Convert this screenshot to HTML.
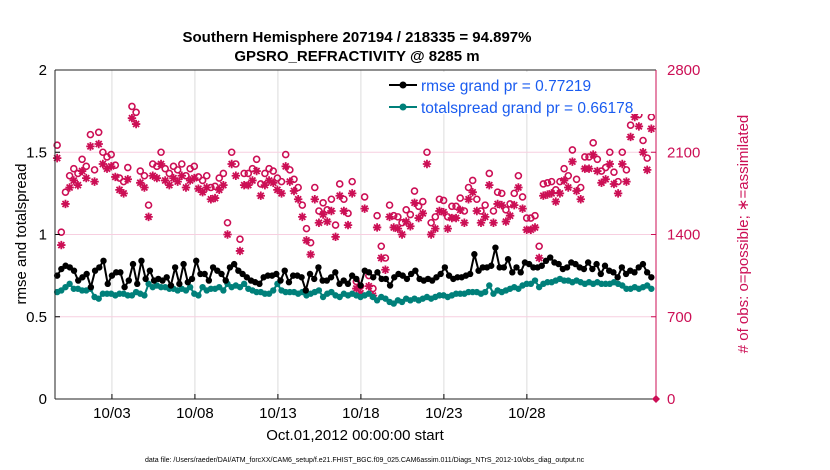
<!DOCTYPE html>
<html><head><meta charset="utf-8"><style>
body{margin:0;background:#fff;}
svg{display:block;font-family:"Liberation Sans",sans-serif;}
</style></head><body>
<svg id="chart" width="830" height="470">
<text x="357" y="42" text-anchor="middle" font-size="15" font-weight="bold">Southern Hemisphere 207194 / 218335 = 94.897%</text>
<text x="357" y="61" text-anchor="middle" font-size="15" font-weight="bold">GPSRO_REFRACTIVITY @ 8285 m</text>
<g id="grid"></g>
<g id="marks"></g>
<g id="axes"></g>
<text transform="translate(26,234) rotate(-90)" text-anchor="middle" font-size="15">rmse and totalspread</text>
<text transform="translate(748,234) rotate(-90)" text-anchor="middle" font-size="15" fill="#cc0f55"># of obs: o=possible; ∗=assimilated</text>
<text x="355" y="440" text-anchor="middle" font-size="15">Oct.01,2012 00:00:00 start</text>
<text x="145" y="462" font-size="7">data file: /Users/raeder/DAI/ATM_forcXX/CAM6_setup/f.e21.FHIST_BGC.f09_025.CAM6assim.011/Diags_NTrS_2012-10/obs_diag_output.nc</text>
<g>
<rect x="385" y="72" width="268" height="42" fill="#fff"/>
<line x1="389" y1="85" x2="417" y2="85" stroke="#000" stroke-width="2"/>
<circle cx="403" cy="85" r="3.5" fill="#000"/>
<text x="421" y="91" font-size="15.5" fill="#1a5cf0">rmse grand pr = 0.77219</text>
<line x1="389" y1="107" x2="417" y2="107" stroke="#00807a" stroke-width="2"/>
<circle cx="403" cy="107" r="3.5" fill="#00807a"/>
<text x="421" y="113" font-size="15.5" fill="#1a5cf0">totalspread grand pr = 0.66178</text>
</g>
</svg>
<script>
const xTickLabels=["10/03","10/08","10/13","10/18","10/23","10/28"];
const xTickDays=[2,7,12,17,22,27];
const leftTicks=[0,0.5,1,1.5,2];
const rightTicks=[0,700,1400,2100,2800];
const rmse=[0.75,0.79,0.81,0.80,0.78,0.72,0.74,0.76,0.68,0.78,0.80,0.84,0.70,0.75,0.77,0.77,0.68,0.72,0.82,0.70,0.84,0.73,0.78,0.72,0.73,0.72,0.74,0.69,0.80,0.70,0.82,0.71,0.73,0.84,0.76,0.76,0.72,0.80,0.78,0.76,0.72,0.80,0.82,0.78,0.76,0.74,0.72,0.71,0.70,0.74,0.75,0.75,0.76,0.72,0.78,0.71,0.75,0.75,0.74,0.66,0.76,0.73,0.80,0.72,0.72,0.74,0.77,0.70,0.72,0.70,0.75,0.73,0.69,0.78,0.77,0.74,0.77,0.73,0.73,0.69,0.74,0.76,0.75,0.73,0.76,0.78,0.73,0.72,0.73,0.72,0.74,0.76,0.80,0.75,0.73,0.74,0.74,0.75,0.76,0.88,0.78,0.80,0.80,0.81,0.92,0.80,0.80,0.85,0.77,0.80,0.77,0.83,0.82,0.80,0.80,0.81,0.84,0.86,0.83,0.82,0.79,0.80,0.83,0.82,0.80,0.79,0.83,0.79,0.82,0.76,0.81,0.78,0.77,0.74,0.80,0.76,0.78,0.77,0.80,0.82,0.77,0.74];
const spread=[0.65,0.66,0.68,0.70,0.67,0.67,0.66,0.66,0.67,0.62,0.61,0.64,0.64,0.64,0.63,0.64,0.64,0.63,0.63,0.65,0.64,0.63,0.70,0.68,0.69,0.68,0.68,0.67,0.67,0.66,0.67,0.66,0.68,0.64,0.63,0.68,0.66,0.67,0.67,0.68,0.66,0.70,0.68,0.69,0.68,0.70,0.67,0.66,0.65,0.65,0.64,0.64,0.66,0.70,0.66,0.65,0.65,0.65,0.64,0.65,0.63,0.64,0.65,0.66,0.62,0.64,0.65,0.63,0.62,0.64,0.63,0.64,0.63,0.62,0.63,0.64,0.62,0.60,0.62,0.61,0.59,0.58,0.60,0.59,0.61,0.60,0.61,0.60,0.61,0.62,0.61,0.62,0.63,0.63,0.62,0.63,0.64,0.64,0.64,0.65,0.65,0.65,0.64,0.65,0.69,0.64,0.66,0.65,0.66,0.67,0.68,0.67,0.69,0.70,0.70,0.72,0.68,0.70,0.71,0.71,0.72,0.73,0.72,0.72,0.71,0.72,0.71,0.70,0.71,0.70,0.71,0.70,0.70,0.70,0.71,0.70,0.69,0.67,0.67,0.68,0.67,0.68,0.69,0.67];
const possible=[2160,1420,1760,1900,1960,1920,2040,1980,2250,1950,2270,2100,2060,2080,1990,1880,1850,1970,2490,2440,1940,1900,1650,2000,1980,2100,1960,1920,1980,1950,2000,1900,1960,1980,1890,1860,1900,1800,1810,1880,1920,1500,2100,2000,1360,1920,1920,1960,2040,1830,1920,1960,1940,1880,1850,2080,1950,1870,1800,1650,1450,1330,1800,1600,1670,1610,1700,1480,1830,1700,1580,1850,1000,960,1720,1050,940,1560,1300,1200,1650,1560,1550,1500,1610,1570,1770,1640,1680,2100,1500,1550,1700,1690,1550,1640,1640,1710,1600,1800,1860,1700,1600,1650,1920,1600,1760,1750,1610,1660,1750,1900,1720,1540,1540,1560,1300,1830,1840,1850,1780,1850,1960,1900,2120,1870,1800,2060,2060,2180,2040,1940,1970,2100,1930,1850,2100,1950,2330,2500,2420,2200,2050,2400];
const assimilated=[2050,1310,1660,1800,1860,1820,1940,1880,2150,1850,2170,2000,1960,1980,1890,1780,1750,1870,2390,2340,1840,1800,1550,1900,1880,2000,1860,1820,1880,1850,1900,1800,1860,1880,1790,1760,1800,1700,1710,1780,1820,1400,2000,1900,1260,1820,1820,1860,1940,1730,1820,1860,1840,1780,1750,1980,1850,1770,1700,1550,1350,1230,1700,1500,1570,1510,1600,1380,1730,1600,1480,1750,940,900,1620,960,880,1460,1200,1100,1550,1460,1450,1400,1510,1470,1670,1540,1580,2000,1400,1450,1600,1590,1450,1540,1540,1610,1500,1700,1760,1600,1500,1550,1820,1500,1660,1650,1510,1560,1650,1800,1620,1440,1440,1460,1200,1730,1740,1750,1680,1750,1860,1800,2020,1770,1700,1960,1960,2080,1940,1840,1870,2000,1830,1750,2000,1850,2230,2400,2320,2100,1950,2300];
const NS="http://www.w3.org/2000/svg";
const X0=55,X1=656,YT=70,YB=399;
const dMin=-1.43,dMax=34.78;
function xs(d){return X0+(d-dMin)/(dMax-dMin)*(X1-X0);}
function yl(v){return YB-v/2*(YB-YT);}
function yr(v){return YB-v/2800*(YB-YT);}
function tday(i,n){return -1.3+i*(35.8/(n-1));}
function mk(tag,attrs,parent){const e=document.createElementNS(NS,tag);for(const k in attrs)e.setAttribute(k,attrs[k]);parent.appendChild(e);return e;}
const grid=document.getElementById('grid'),marks=document.getElementById('marks'),axes=document.getElementById('axes');
xTickDays.forEach((d,i)=>{
  const l=mk('line',{x1:xs(d),x2:xs(d),y1:YT,y2:YB,stroke:'#dcdcdc','stroke-width':1},grid);
  
  
  const t=mk('text',{x:xs(d),y:418,'text-anchor':'middle','font-size':15},axes);
  t.textContent=xTickLabels[i];
  
  
  mk('line',{x1:xs(d),x2:xs(d),y1:YB,y2:YB-5,stroke:'#000'},axes);
});
rightTicks.forEach(v=>{
  if(v>0&&v<2800){const l=mk('line',{x1:X0,x2:X1,y1:yr(v),y2:yr(v),stroke:'#f7cfe0','stroke-width':1},grid);
  
  }
  const t=mk('text',{x:X1+11,y:yr(v)+5,'font-size':15,fill:'#cc0f55'},axes);
  t.textContent=v;
  
  
  mk('line',{x1:X1,x2:X1-5,y1:yr(v),y2:yr(v),stroke:'#cc0f55'},axes);
});
leftTicks.forEach(v=>{
  const t=mk('text',{x:X0-8,y:yl(v)+5,'text-anchor':'end','font-size':15},axes);
  t.textContent=String(v);
  
  
  mk('line',{x1:X0,x2:X0+5,y1:yl(v),y2:yl(v),stroke:'#000'},axes);
});
mk('line',{x1:X0,x2:X1,y1:YT,y2:YT,stroke:'#222'},axes);
mk('line',{x1:X0,x2:X1,y1:YB,y2:YB,stroke:'#222'},axes);
mk('line',{x1:X0,x2:X0,y1:YT,y2:YB,stroke:'#222'},axes);
mk('line',{x1:X1,x2:X1,y1:YT,y2:YB,stroke:'#cc0f55'},axes);
const dia=mk('path',{d:`M${X1-4},${YB} L${X1},${YB-4} L${X1+4},${YB} L${X1},${YB+4}Z`,fill:'#cc0f55'},axes);


possible.forEach((v,i)=>{
  const c=mk('circle',{cx:xs(tday(i,possible.length)),cy:yr(v),r:3,fill:'none',stroke:'#cc0f55','stroke-width':1.6},marks);
  
  
});
assimilated.forEach((v,i)=>{
  const x=xs(tday(i,assimilated.length)),y=yr(v),r=4.2;
  const d=`M${x-r},${y}H${x+r}M${x},${y-r}V${y+r}M${x-3},${y-3}L${x+3},${y+3}M${x-3},${y+3}L${x+3},${y-3}`;
  const p=mk('path',{d:d,stroke:'#cc0f55','stroke-width':1.8,fill:'none'},marks);
  
  
});
function series(arr,color,name){
  const pts=arr.map((v,i)=>xs(tday(i,arr.length)).toFixed(1)+','+yl(v).toFixed(1)).join(' ');
  const pl=mk('polyline',{points:pts,fill:'none',stroke:color,'stroke-width':2},marks);
  
  
  arr.forEach((v,i)=>{
    const c=mk('circle',{cx:xs(tday(i,arr.length)),cy:yl(v),r:3.2,fill:color},marks);
    
    
  });
}
series(spread,'#00807a','totalspread');
series(rmse,'#000','rmse');
</script>
</body></html>
